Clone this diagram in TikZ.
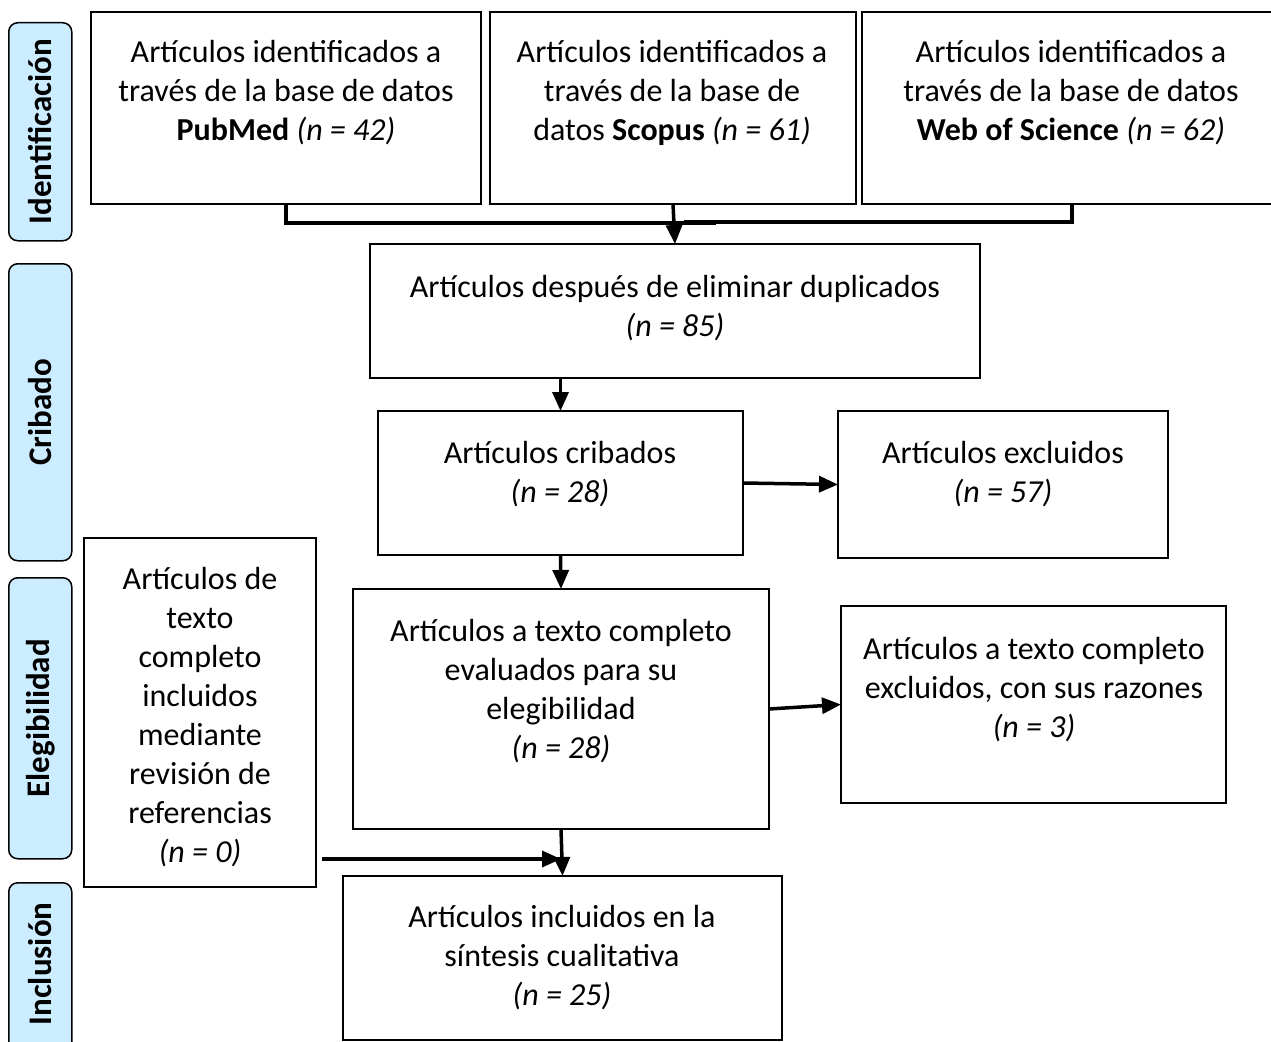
\documentclass[tikz,border=0pt]{standalone}
\usepackage{fontspec}
\setmainfont{Carlito}
\usetikzlibrary{arrows.meta}
\definecolor{sidefill}{HTML}{CCECFF}
\tikzset{
  box/.style={draw=black, line width=1.5pt, rectangle, inner sep=0pt, outer sep=0pt, anchor=north west},
  txt/.style={align=center, inner sep=0pt, anchor=north, font=\fontsize{32}{39}\selectfont},
  side/.style={draw=black, line width=1.5pt, rounded corners=9pt, fill=sidefill, inner sep=0pt, anchor=north west, minimum width=63pt},
  sidetxt/.style={rotate=90, font=\fontsize{33}{38}\selectfont\bfseries, inner sep=0pt},
  conn/.style={line width=3.5pt},
  arr/.style={line width=3.5pt, -{Triangle[length=19pt,width=16pt]}}
}
\begin{document}
\begin{tikzpicture}[x=1pt,y=-1pt]
\useasboundingbox (0,0) rectangle (1271,1041);
\clip (0,0) rectangle (1271,1041);
% side labels
\node[side, minimum height=218pt] (s1) at (8,22) {};
\node[sidetxt] (l1) at (s1.center) {Identificación};
\node[side, minimum height=297pt] (s2) at (8,263) {};
\node[sidetxt] (l2) at (s2.center) {Cribado};
\node[side, minimum height=281pt] (s3) at (8,577) {};
\node[sidetxt] (l3) at (s3.center) {Elegibilidad};
\node[side, minimum height=180pt] (s4) at (8,882) {};
\node[sidetxt] (l4) at (40,964) {Inclusión};
% boxes
\node[box, minimum width=390pt, minimum height=192pt] (b1) at (91,12) {};
\node[box, minimum width=366pt, minimum height=192pt] (b2) at (490,12) {};
\node[box, minimum width=420pt, minimum height=192pt] (b3) at (862,12) {};
\node[box, minimum width=610pt, minimum height=134pt] (b4) at (370,244) {};
\node[box, minimum width=365pt, minimum height=144pt] (b5) at (378,411) {};
\node[box, minimum width=330pt, minimum height=147pt] (b6) at (838,411) {};
\node[box, minimum width=416pt, minimum height=240pt] (b7) at (353,589) {};
\node[box, minimum width=385pt, minimum height=197pt] (b8) at (841,606) {};
\node[box, minimum width=232pt, minimum height=349pt] (b9) at (84,538) {};
\node[box, minimum width=439pt, minimum height=164pt] (b10) at (343,876) {};
% texts
\node[txt] (t1) at (286,40) {Artículos identificados a\\ través de la base de datos\\ \textbf{PubMed} \textit{(n = 42)}};
\node[txt] (t2) at (672,40) {Artículos identificados a\\ través de la base de\\ datos \textbf{Scopus} \textit{(n = 61)}};
\node[txt] (t3) at (1071,40) {Artículos identificados a\\ través de la base de datos\\ \textbf{Web of Science} \textit{(n = 62)}};
\node[txt] (t4) at (675,275) {Artículos después de eliminar duplicados\\ \textit{(n = 85)}};
\node[txt] (t5) at (560,441) {Artículos cribados\\ \textit{(n = 28)}};
\node[txt] (t6) at (1003,441) {Artículos excluidos\\ \textit{(n = 57)}};
\node[txt] (t7) at (561,619) {Artículos a texto completo\\ evaluados para su\\ elegibilidad\\ \textit{(n = 28)}};
\node[txt] (t8) at (1034,637) {Artículos a texto completo\\ excluidos, con sus razones\\ \textit{(n = 3)}};
\node[txt] (t9) at (200,567) {Artículos de\\ texto\\ completo\\ incluidos\\ mediante\\ revisión de\\ referencias\\ \textit{(n = 0)}};
\node[txt] (t10) at (562,905) {Artículos incluidos en la\\ síntesis cualitativa\\ \textit{(n = 25)}};
% connectors
\coordinate (j1) at (716,223);
\coordinate (j3) at (684,222);
\draw[conn] (b1.south) |- (j1);
\draw[conn] (b3.south) |- (j3);
\draw[arr] (b2.south) -- (b4.north);
\draw[arr] (b4.south -| b5.north) -- (b5.north);
\draw[arr] (b5.east) -- (b6.west);
\draw[arr] (b5.south) -- (b7.north);
\draw[arr] (b7.east) -- (b8.west);
\draw[arr] (b7.south) -- (b10.north);
\coordinate (c9) at (322,859);
\draw[arr] (c9) -- (b7.south |- c9);
\end{tikzpicture}
\end{document}
